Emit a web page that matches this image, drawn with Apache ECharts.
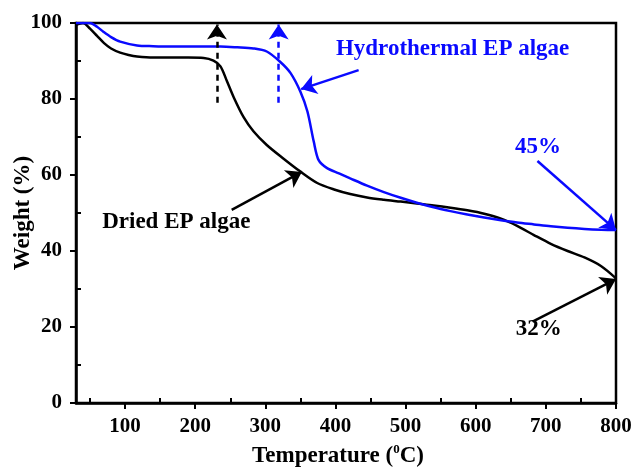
<!DOCTYPE html>
<html>
<head>
<meta charset="utf-8">
<script src="https://cdn.jsdelivr.net/npm/echarts@6/dist/echarts.min.js"></script>
<style>html,body{margin:0;padding:0;background:#fff}#c{width:636px;height:475px}</style>
</head>
<body>
<div id="c"></div>
<script>
// Dried EP algae (black)
var driedT = [30,40,50,60,70,80,93,105,117,140,164,190,212,226,236,245,255,269,283,302,326,350,374,398,421,445,469,493,516,540,564,588,612,636,659,683,707,731,755,779,800];
var driedW = [99.5,100,98.5,96.6,94.7,93.3,92.2,91.6,91.2,90.9,90.9,90.9,90.8,90.1,88.6,84.8,80.4,75.2,71.5,67.9,64.3,60.9,57.9,56.2,55.0,54.1,53.5,53.0,52.5,52.0,51.4,50.7,49.8,48.5,46.6,44.2,41.9,40.0,38.3,36.0,32.8];
// Hydrothermal EP algae (blue)
var hydroT = [30,50,60,69,80,93,117,140,164,190,212,236,260,283,302,321,336,350,360,369,376,388,405,421,445,469,493,516,540,564,588,612,636,659,683,707,731,755,779,800];
var hydroW = [100,100,99,97.7,96.3,95.1,94.1,93.9,93.8,93.8,93.8,93.8,93.6,93.3,92.5,89.8,86.8,81.9,76.7,68.8,63.9,61.8,60.4,59.1,57.2,55.5,54.0,52.7,51.5,50.5,49.6,48.8,48.1,47.5,47.0,46.5,46.1,45.8,45.6,45.5];

var xMajorTicks = [100,200,300,400,500,600,700,800];
var xMinorTicks = [50,150,250,350,450,550,650,750];
var yMinorTicks = [10,30,50,70,90];

// annotations: [fromT, fromW, toT, toW]
var arrowsBlack = [[252,50.8,352,60.8],[681,21.4,800,32.6]];
var arrowsBlue = [[433,87.6,351,82.6],[688,63.7,800,45.5]];
var dashedBlack = [[231,79,231,99.6]];
var dashedBlue = [[319,79,319,99.6]];
// texts: [T, W, text]
var textsBlack = [[173,47.7,'Dried EP algae'],[690,19.5,'32%']];
var textsBlue = [[567,93.2,'Hydrothermal EP algae'],[688.6,67.4,'45%']];

function pairs(a,b){return a.map(function(v,i){return [v,b[i]];});}
function arrowData(arr){return arr.map(function(a){return {coords:[[a[0],a[1]],[a[2],a[3]]]};});}
function textData(arr){return arr.map(function(a){return {value:[a[0],a[1]],name:a[2]};});}

var FONT = '"Liberation Serif", "Times New Roman", serif';
var BLUE = '#0a0aff';

var chart = echarts.init(document.getElementById('c'), null, {renderer:'canvas'});
function arrowSeries(arr, color, dashed){
  return {
    type:'lines', coordinateSystem:'cartesian2d', xAxisIndex:0, yAxisIndex:0,
    symbol:['none','arrow'], symbolSize:[11,15], silent:true, z:5,
    lineStyle:{color:color, width:2.5, type: dashed ? [6,5] : 'solid', opacity:1},
    data: arrowData(arr)
  };
}
function textSeries(arr, color){
  return {
    type:'scatter', xAxisIndex:0, yAxisIndex:0, symbolSize:0, silent:true, z:6,
    itemStyle:{color:color, opacity:1},
    label:{show:true, position:'inside', formatter:function(p){return p.name;},
      color:color, opacity:1, textBorderWidth:0, textShadowBlur:0,
      fontFamily:FONT, fontWeight:'bold', fontSize:23},
    data: textData(arr)
  };
}
chart.setOption({
  animation:false,
  backgroundColor:'#fff',
  grid:{left:76, right:20, top:23, bottom:72, containLabel:false, outerBoundsMode:'none',
    show:true, borderColor:'#000', borderWidth:2.5, backgroundColor:'transparent'},
  xAxis:[{
    type:'value', min:30, max:800, position:'bottom',
    axisLine:{show:true, onZero:false, lineStyle:{color:'#000', width:2.5}},
    axisTick:{show:true, inside:false, length:6, customValues:xMajorTicks, lineStyle:{color:'#000', width:2}},
    axisLabel:{customValues:xMajorTicks, color:'#000', fontFamily:FONT, fontWeight:'bold', fontSize:21, margin:13},
    splitLine:{show:false},
    name:'{a|Temperature (}{s|0}{a|C)}', nameLocation:'middle', nameGap:40, nameMoveOverlap:false,
    nameTextStyle:{padding:[0,16,0,0], rich:{
      a:{fontFamily:FONT, fontWeight:'bold', fontSize:23, color:'#000', lineHeight:26},
      s:{fontFamily:FONT, fontWeight:'bold', fontSize:13, color:'#000', verticalAlign:'top', lineHeight:26, padding:[0,0,11,0]}
    }}
  },{
    type:'value', min:30, max:800, position:'bottom',
    axisLine:{show:false, onZero:false},
    axisTick:{show:true, inside:true, length:5, customValues:xMinorTicks, lineStyle:{color:'#000', width:2}},
    axisLabel:{show:false}, splitLine:{show:false}
  }],
  yAxis:[{
    type:'value', min:0, max:100, interval:20, position:'left',
    axisLine:{show:true, onZero:false, lineStyle:{color:'#000', width:2.5}},
    axisTick:{show:true, inside:false, length:6, lineStyle:{color:'#000', width:2}},
    axisLabel:{color:'#000', fontFamily:FONT, fontWeight:'bold', fontSize:21, margin:14},
    splitLine:{show:false},
    name:'Weight (%)', nameLocation:'middle', nameGap:41, nameMoveOverlap:false,
    nameTextStyle:{fontFamily:FONT, fontWeight:'bold', fontSize:23, color:'#000'}
  },{
    type:'value', min:0, max:100, position:'left',
    axisLine:{show:false, onZero:false},
    axisTick:{show:true, inside:true, length:5, customValues:yMinorTicks, lineStyle:{color:'#000', width:2}},
    axisLabel:{show:false}, splitLine:{show:false}
  }],
  series:[
    {name:'Dried EP algae', type:'line', xAxisIndex:0, yAxisIndex:0, data:pairs(driedT,driedW), smooth:0.3, showSymbol:false,
      lineStyle:{color:'#000', width:2.5}, z:3},
    {name:'Hydrothermal EP algae', type:'line', xAxisIndex:0, yAxisIndex:0, data:pairs(hydroT,hydroW), smooth:0.3, showSymbol:false,
      lineStyle:{color:BLUE, width:2.5}, z:4},
    arrowSeries(arrowsBlack,'#000',false),
    arrowSeries(arrowsBlue,BLUE,false),
    arrowSeries(dashedBlack,'#000',true),
    arrowSeries(dashedBlue,BLUE,true),
    textSeries(textsBlack,'#000'),
    textSeries(textsBlue,BLUE)
  ]
});
</script>
</body>
</html>
